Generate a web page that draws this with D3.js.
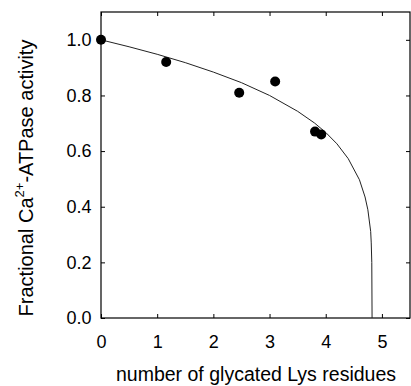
<!DOCTYPE html>
<html>
<head>
<meta charset="utf-8">
<script src="https://cdn.jsdelivr.net/npm/d3@7"></script>
<style>
  body { margin: 0; background: #fff; }
  text { font-family: "Liberation Sans", Arial, sans-serif; fill: #000; }
</style>
</head>
<body>
<div id="chart"></div>
<script>
// measured points (number of glycated Lys, fractional activity)
const glycLys = [0, 1.16, 2.46, 3.10, 3.81, 3.92];
const activity = [1.0, 0.92, 0.81, 0.85, 0.67, 0.66];

// fitted curve
const curveX = [0, 0.5, 1.0, 1.5, 2.0, 2.5, 3.0, 3.5, 3.8, 4.0, 4.2, 4.4, 4.6, 4.7, 4.75, 4.8, 4.81, 4.82, 4.825];
const curveY = [1.0, 0.975, 0.948, 0.918, 0.884, 0.846, 0.80, 0.743, 0.701, 0.667, 0.626, 0.573, 0.497, 0.435, 0.389, 0.311, 0.27, 0.20, 0.0];

const xTicks = [0, 1, 2, 3, 4, 5];
const yTicks = [0, 0.2, 0.4, 0.6, 0.8, 1.0];

const margin = { top: 12, right: 1, bottom: 68, left: 101 },
  width = 411 - margin.left - margin.right,
  height = 386 - margin.top - margin.bottom;

const svg = d3.select("#chart")
  .append("svg")
  .attr("width", width + margin.left + margin.right)
  .attr("height", height + margin.top + margin.bottom);

const g = svg.append("g")
  .attr("transform", `translate(${margin.left},${margin.top})`);

const x = d3.scaleLinear().domain([0, 5.5]).range([0, width]);
const y = d3.scaleLinear().domain([0, 1.1]).range([height, 0]);

// axes with inward ticks
g.append("g")
  .attr("transform", `translate(0,${height})`)
  .call(d3.axisBottom(x).tickValues(xTicks).tickSizeInner(-4).tickSizeOuter(0).tickPadding(17).tickFormat(d3.format("d")))
  .call(a => a.selectAll("text").style("font-size", "18px"));

g.append("g")
  .call(d3.axisLeft(y).tickValues(yTicks).tickSizeInner(-4).tickSizeOuter(0).tickPadding(9.5).tickFormat(d3.format(".1f")))
  .call(a => a.selectAll("text").style("font-size", "18px"));

g.append("g")
  .call(d3.axisTop(x).tickValues(xTicks).tickSizeInner(-4).tickSizeOuter(0).tickFormat(""));

g.append("g")
  .attr("transform", `translate(${width},0)`)
  .call(d3.axisRight(y).tickValues(yTicks).tickSizeInner(-4).tickSizeOuter(0).tickFormat(""));

g.selectAll(".domain").remove();
g.selectAll(".tick line").attr("stroke", "#000");

g.append("rect")
  .attr("width", width)
  .attr("height", height)
  .attr("fill", "none")
  .attr("stroke", "#000")
  .attr("stroke-width", 1.2);

// fit curve
const line = d3.line()
  .x((d, i) => x(curveX[i]))
  .y(d => y(d));

g.append("path")
  .datum(curveY)
  .attr("d", line)
  .attr("fill", "none")
  .attr("stroke", "#222")
  .attr("stroke-width", 1);

g.selectAll(".dot")
  .data(activity)
  .enter()
  .append("circle")
  .attr("class", "dot")
  .attr("cx", (d, i) => x(glycLys[i]))
  .attr("cy", d => y(d))
  .attr("r", 5)
  .attr("fill", "#000");

// axis titles
svg.append("text")
  .attr("x", 256)
  .attr("y", 381)
  .attr("text-anchor", "middle")
  .style("font-size", "19.5px")
  .text("number of glycated Lys residues");

const yt = svg.append("text")
  .attr("transform", "translate(33,178) rotate(-90)")
  .attr("text-anchor", "middle")
  .style("font-size", "20px");
yt.append("tspan").text("Fractional Ca");
yt.append("tspan").attr("dy", -9).style("font-size", "13px").text("2+");
yt.append("tspan").attr("dy", 9).text("-ATPase activity");
</script>
</body>
</html>
